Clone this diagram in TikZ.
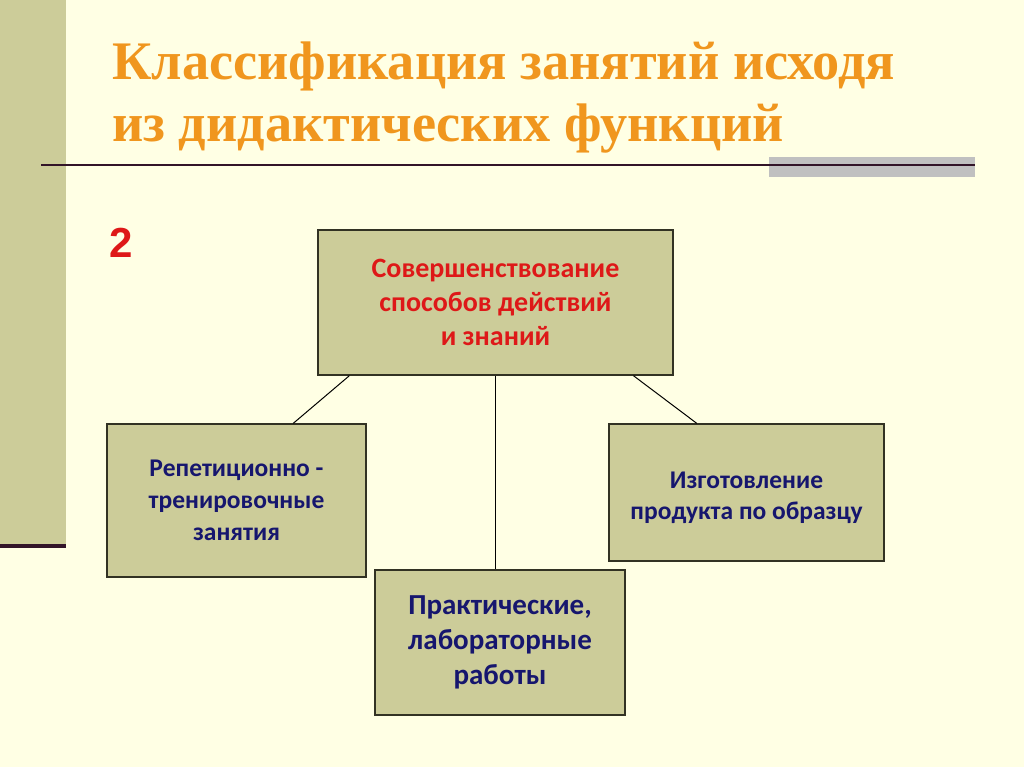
\documentclass[tikz,border=0pt]{standalone}
\usepackage{fontspec}
\setmainfont{Carlito}
\newfontfamily\titlefont{Liberation Serif}
\newfontfamily\numfont{Liberation Sans}
\usetikzlibrary{calc}
\definecolor{bgc}{RGB}{255,255,228}
\definecolor{barc}{RGB}{204,204,153}
\definecolor{boxc}{RGB}{204,204,153}
\definecolor{rulec}{RGB}{50,20,40}
\definecolor{grayc}{RGB}{192,192,192}
\definecolor{orangec}{RGB}{240,150,30}
\definecolor{redc}{RGB}{222,24,24}
\definecolor{bluec}{RGB}{22,22,110}
\definecolor{edgec}{RGB}{50,50,35}
\tikzset{
  dbox/.style={draw=edgec, line width=1.3pt, fill=boxc, rectangle, inner sep=0pt,
    align=center, font=\bfseries\fontsize{25.5}{32}\selectfont, text=bluec},
  lbl/.style={inner sep=0pt, align=center, text=bluec},
  link/.style={draw=black, line width=1pt},
  ttl/.style={anchor=base west, inner sep=0pt, text=orangec,
    font=\titlefont\bfseries\fontsize{54.3}{60}\selectfont}
}
\begin{document}
\begin{tikzpicture}[x=1pt,y=-1pt]
\useasboundingbox (0,0) rectangle (1024,767);
\fill[bgc] (0,0) rectangle (1024,767);
% left bar
\fill[barc] (0,0) rectangle (66,545);
\fill[rulec] (0,544) rectangle (66,548);
% title rule
\fill[grayc] (769,157) rectangle (975,177);
\fill[rulec] (41,164) rectangle (975,166.5);
% title
\node[ttl] (t1) at (112,80) {Классификация занятий исходя};
\node[ttl] (t2) at (112,142) {из дидактических функций};
% number
\node[anchor=base west, inner sep=0pt, text=redc, font=\numfont\bfseries\fontsize{42}{42}\selectfont] (num) at (109,258) {2};
% boxes
\node[dbox, minimum width=355pt, minimum height=145pt, text=redc,
  font=\bfseries\fontsize{28}{34}\selectfont] (top) at (495.5,302.5)
  {Совершенствование\\способов действий\\и знаний};
\node[dbox, minimum width=259pt, minimum height=153pt] (left) at (236.5,500.5)
  {Репетиционно -\\тренировочные\\занятия};
\node[dbox, minimum width=275pt, minimum height=137pt] (right) at (746.5,492.5) {};
\node[lbl, font=\bfseries\fontsize{25.5}{31}\selectfont] (rightlbl) at ($(right.center)+(0,5)$)
  {Изготовление\\продукта по образцу};
\node[dbox, minimum width=250pt, minimum height=145pt,
  font=\bfseries\fontsize{29}{35}\selectfont] (bot) at (500,642.5)
  {Практические,\\лабораторные\\работы};
% connectors
\draw[link] ($(top.south west)!0.09!(top.south east)$) -- ($(left.north west)!0.718!(left.north east)$);
\draw[link] (top.south) -- (top.south |- bot.north);
\draw[link] ($(top.south west)!0.887!(top.south east)$) -- ($(right.north west)!0.32!(right.north east)$);
\end{tikzpicture}
\end{document}
